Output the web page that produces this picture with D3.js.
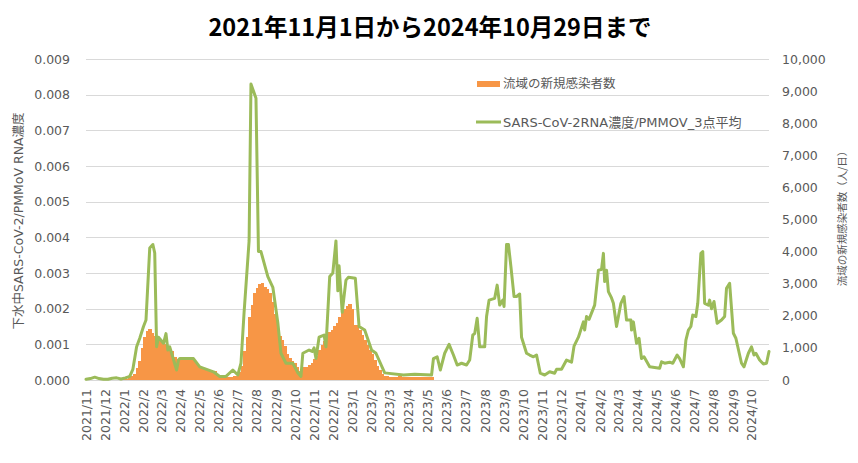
<!DOCTYPE html>
<html><head><meta charset="utf-8">
<script src="https://cdn.jsdelivr.net/npm/d3@7"></script>
<style>body{margin:0;background:#fff} svg{display:block}</style>
</head><body>
<svg id="c" width="858" height="463"></svg>
<script>
// ---- data ----
const titleText = "2021年11月1日から2024年10月29日まで";
const leftTitle = "下水中SARS-CoV-2/PMMoV RNA濃度";
const rightTitle = "流域の新規感染者数（人/日）";
const barLabel = "流域の新規感染者数";
const lineLabel = "SARS-CoV-2RNA濃度/PMMOV_3点平均";

const leftTicks = [0,0.001,0.002,0.003,0.004,0.005,0.006,0.007,0.008,0.009];
const rightTicks = [0,1000,2000,3000,4000,5000,6000,7000,8000,9000,10000];
const monthTicks = ["2021-11-01","2021-12-01","2022-01-01","2022-02-01","2022-03-01","2022-04-01","2022-05-01","2022-06-01","2022-07-01","2022-08-01","2022-09-01","2022-10-01","2022-11-01","2022-12-01","2023-01-01","2023-02-01","2023-03-01","2023-04-01","2023-05-01","2023-06-01","2023-07-01","2023-08-01","2023-09-01","2023-10-01","2023-11-01","2023-12-01","2024-01-01","2024-02-01","2024-03-01","2024-04-01","2024-05-01","2024-06-01","2024-07-01","2024-08-01","2024-09-01","2024-10-01"];

// new cases per day (values for consecutive 4-day periods starting 2021-11-01)
const barStart = "2021-11-01";
const barStepDays = 4;
const barValues = [10,8,8,6,6,5,5,5,5,6,
 8,8,10,12,15,20,40,80,130,200,
 380,600,1000,1350,1520,1580,1450,1370,1320,1280,
 1240,1130,1000,930,900,720,660,640,660,670,
 670,670,650,600,470,420,360,330,310,300,
 290,280,160,110,90,80,80,80,90,110,
 120,250,450,900,1350,1950,2350,2700,2870,2990,
 3030,2900,2830,2700,2420,2050,1700,1370,1250,1050,
 820,680,600,520,420,270,380,410,420,460,
 540,660,760,920,1080,1230,1390,1500,1570,1680,
 1780,1960,2080,2200,2300,2380,2200,1700,1720,1560,
 1400,1250,1100,950,800,620,430,320,200,140,
 110,100,105,95,100,110,100,95,90,100,105,95,90,100,95,90,100,95,90];

const lineDates = ["2021-11-01","2021-11-08","2021-11-15","2021-11-22","2021-11-29","2021-12-06","2021-12-13","2021-12-20","2021-12-27","2022-01-03","2022-01-10","2022-01-15","2022-01-21","2022-01-26","2022-02-01","2022-02-05","2022-02-11","2022-02-16","2022-02-19","2022-02-22","2022-02-25","2022-03-05","2022-03-09","2022-03-12","2022-03-15","2022-03-26","2022-03-29","2022-03-31","2022-04-22","2022-05-02","2022-05-24","2022-06-03","2022-06-13","2022-06-24","2022-07-02","2022-07-07","2022-07-12","2022-07-20","2022-07-23","2022-07-31","2022-08-04","2022-08-08","2022-08-19","2022-08-27","2022-09-04","2022-09-09","2022-09-17","2022-09-28","2022-10-06","2022-10-11","2022-10-14","2022-10-24","2022-10-29","2022-11-01","2022-11-04","2022-11-09","2022-11-17","2022-11-20","2022-11-26","2022-12-01","2022-12-06","2022-12-09","2022-12-11","2022-12-16","2022-12-22","2022-12-26","2023-01-06","2023-01-12","2023-01-21","2023-02-01","2023-02-08","2023-02-22","2023-03-24","2023-04-11","2023-05-08","2023-05-11","2023-05-17","2023-05-22","2023-05-29","2023-06-05","2023-06-12","2023-06-18","2023-06-25","2023-07-03","2023-07-08","2023-07-13","2023-07-16","2023-07-20","2023-07-24","2023-08-01","2023-08-04","2023-08-08","2023-08-17","2023-08-21","2023-08-25","2023-08-30","2023-09-01","2023-09-05","2023-09-08","2023-09-12","2023-09-17","2023-09-21","2023-09-26","2023-09-29","2023-10-07","2023-10-12","2023-10-18","2023-10-23","2023-10-29","2023-11-05","2023-11-13","2023-11-21","2023-11-24","2023-12-02","2023-12-10","2023-12-18","2023-12-22","2023-12-29","2024-01-06","2024-01-08","2024-01-11","2024-01-15","2024-01-24","2024-01-30","2024-02-04","2024-02-07","2024-02-09","2024-02-12","2024-02-15","2024-02-20","2024-02-23","2024-02-28","2024-03-06","2024-03-11","2024-03-15","2024-03-22","2024-03-23","2024-03-26","2024-03-31","2024-04-04","2024-04-08","2024-04-12","2024-04-21","2024-05-07","2024-05-10","2024-05-15","2024-05-23","2024-05-28","2024-06-04","2024-06-08","2024-06-14","2024-06-18","2024-06-22","2024-06-26","2024-06-29","2024-07-04","2024-07-07","2024-07-12","2024-07-15","2024-07-18","2024-07-24","2024-07-26","2024-07-29","2024-08-02","2024-08-07","2024-08-14","2024-08-19","2024-08-22","2024-08-27","2024-09-02","2024-09-06","2024-09-15","2024-09-19","2024-09-26","2024-10-01","2024-10-05","2024-10-08","2024-10-14","2024-10-20","2024-10-25","2024-10-29"];
const lineValues = [0.00002,0.00004,0.00008,0.00004,0.00002,0.00002,0.00005,0.00006,0.00003,0.00006,0.0001,0.0003,0.00093,0.00117,0.0015,0.00168,0.0037,0.0038,0.00356,0.00093,0.0012,0.00103,0.0013,0.00084,0.00093,0.00028,0.00056,0.0006,0.0006,0.00037,0.00023,0.0001,0.0001,0.00028,0.00014,0.00047,0.0019,0.0039,0.0083,0.0079,0.0036,0.0036,0.0029,0.0026,0.0016,0.00075,0.00047,0.00047,0.0002,0.0001,0.00075,0.00084,0.0008,0.0009,0.0006,0.0012,0.00126,0.00093,0.0029,0.0030,0.0039,0.0025,0.0032,0.0019,0.0028,0.00288,0.00285,0.0015,0.0014,0.00084,0.00075,0.0002,0.00014,0.00016,0.00014,0.0006,0.00065,0.00028,0.00075,0.001,0.0007,0.00042,0.00047,0.00042,0.00056,0.00126,0.0013,0.00173,0.00093,0.00093,0.00178,0.00224,0.00229,0.00266,0.0021,0.00224,0.00206,0.0038,0.0038,0.00318,0.00234,0.00234,0.00241,0.0012,0.00075,0.0007,0.00065,0.0007,0.00019,0.00014,0.00023,0.00019,0.0003,0.0003,0.00056,0.0005,0.00095,0.0012,0.00163,0.0014,0.00178,0.0017,0.0021,0.00308,0.0031,0.00355,0.00276,0.00308,0.00248,0.0023,0.00215,0.0015,0.00215,0.00234,0.00168,0.00168,0.0014,0.00163,0.00103,0.00117,0.0006,0.00065,0.00037,0.00033,0.00051,0.00047,0.0005,0.00047,0.0007,0.0006,0.00037,0.00112,0.0014,0.0015,0.00182,0.00178,0.00215,0.00355,0.0036,0.00215,0.0021,0.00224,0.002,0.0022,0.00159,0.00168,0.00178,0.00257,0.00271,0.00131,0.00117,0.00047,0.00037,0.00075,0.00093,0.0007,0.00075,0.00056,0.00045,0.00047,0.0008];

// ---- chart ----
const parse = d3.utcParse("%Y-%m-%d");
const svg = d3.select("#c");
const plot = {left: 86, right: 769, top: 59, bottom: 380};
const orange = "#F79646", green = "#9BBB59", grey = "#595959";
const fontLatin = "'DejaVu Sans','Noto Sans CJK JP',sans-serif";

const x = d3.scaleUtc().domain([parse("2021-11-01"), parse("2024-10-29")]).range([plot.left, plot.right]);
const yL = d3.scaleLinear().domain([0, 0.009]).range([plot.bottom, plot.top]);
const yR = d3.scaleLinear().domain([0, 10000]).range([plot.bottom, plot.top]);

// gridlines
svg.append("g").selectAll("line").data(leftTicks).join("line")
  .attr("x1", plot.left).attr("x2", plot.right)
  .attr("y1", d => Math.round(yL(d)) + 0.5).attr("y2", d => Math.round(yL(d)) + 0.5)
  .attr("stroke", "#d9d9d9").attr("stroke-width", 1);

// bars
const startDate = parse(barStart);
const bars = barValues.map((v, i) => ({d0: d3.utcDay.offset(startDate, i * barStepDays), d1: d3.utcDay.offset(startDate, (i + 1) * barStepDays), v}));
svg.append("g").attr("shape-rendering", "crispEdges").selectAll("rect").data(bars).join("rect")
  .attr("x", d => x(d.d0))
  .attr("width", d => x(d.d1) - x(d.d0) + 1)
  .attr("y", d => yR(d.v))
  .attr("height", d => yR(0) - yR(d.v))
  .attr("fill", orange);

// line
const lineData = lineDates.map((d, i) => ({date: parse(d), v: lineValues[i]}));
svg.append("path").datum(lineData)
  .attr("fill", "none").attr("stroke", green).attr("stroke-width", 3)
  .attr("stroke-linejoin", "round").attr("stroke-linecap", "round")
  .attr("d", d3.line().x(d => x(d.date)).y(d => yL(d.v)));

// left axis
const gL = svg.append("g").attr("transform", `translate(${plot.left},0)`)
  .call(d3.axisLeft(yL).tickValues(leftTicks).tickFormat(d3.format(".3f")).tickSize(0).tickPadding(16));
gL.select(".domain").remove();
gL.selectAll("text").attr("fill", grey).style("font-family", fontLatin).style("font-size", "12.5px");

// right axis
const gR = svg.append("g").attr("transform", `translate(${plot.right},0)`)
  .call(d3.axisRight(yR).tickValues(rightTicks).tickFormat(d3.format(",")).tickSize(0).tickPadding(13));
gR.select(".domain").remove();
gR.selectAll("text").attr("fill", grey).style("font-family", fontLatin).style("font-size", "12.5px");

// x axis
const gX = svg.append("g").attr("transform", `translate(0,${plot.bottom})`)
  .call(d3.axisBottom(x).tickValues(monthTicks.map(parse)).tickSize(0)
    .tickFormat(d => `${d.getUTCFullYear()}/${d.getUTCMonth() + 1}`));
gX.select(".domain").remove();
gX.selectAll("text")
  .attr("transform", "rotate(-90)")
  .attr("text-anchor", "end")
  .attr("x", -9).attr("y", 0).attr("dy", "0.35em")
  .attr("fill", grey).style("font-family", fontLatin).style("font-size", "12.5px");

// titles
svg.append("text").attr("x", 430).attr("y", 36).attr("text-anchor", "middle")
  .style("font-family", "'Noto Sans CJK JP',sans-serif").style("font-weight", "bold").style("font-size", "23.5px")
  .attr("fill", "#000").text(titleText);

svg.append("text").attr("transform", "translate(19,221) rotate(-90)").attr("text-anchor", "middle")
  .attr("dy", "0.35em").attr("fill", grey)
  .style("font-family", fontLatin).style("font-size", "12.5px").text(leftTitle);

svg.append("text").attr("transform", "translate(842,216) rotate(-90)").attr("text-anchor", "middle")
  .attr("dy", "0.35em").attr("fill", grey)
  .style("font-family", "'Noto Sans CJK JP',sans-serif").style("font-size", "10.5px").text(rightTitle);

// legend
const lg = svg.append("g");
lg.append("rect").attr("x", 477).attr("y", 81).attr("width", 23).attr("height", 6).attr("fill", orange);
lg.append("text").attr("x", 503).attr("y", 84).attr("dy", "0.35em").attr("fill", grey)
  .style("font-family", fontLatin).style("font-size", "12.5px").text(barLabel);
lg.append("line").attr("x1", 476).attr("x2", 501).attr("y1", 122).attr("y2", 122)
  .attr("stroke", green).attr("stroke-width", 3);
lg.append("text").attr("x", 503).attr("y", 122).attr("dy", "0.35em").attr("fill", grey)
  .style("font-family", fontLatin).style("font-size", "13px").text(lineLabel);
</script>
</body></html>
